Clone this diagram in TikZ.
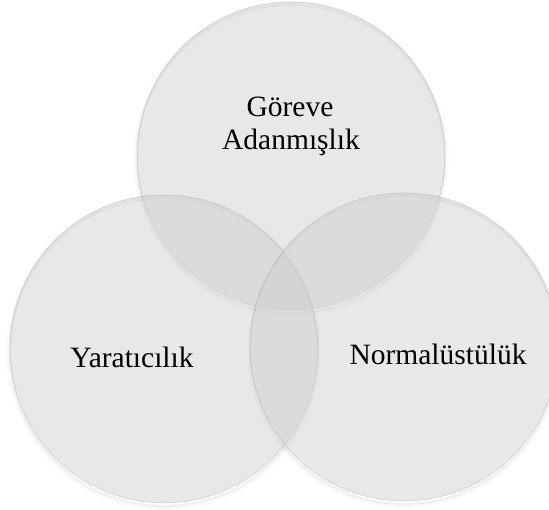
\documentclass[tikz,border=0pt]{standalone}
\usepackage{fontspec}
\setmainfont{Liberation Serif}
\begin{document}
\begin{tikzpicture}[x=1pt,y=-1pt,
  disc/.style={circle, minimum size=308pt, inner sep=0pt, fill=black!20, fill opacity=0.44,
               draw=black!50, draw opacity=0.35, line width=0.5pt},
  lbl/.style={anchor=base, font=\fontsize{29.5}{33}\selectfont, text=black, align=center}]
\useasboundingbox (0,0) rectangle (549,510);
\fill[white] (0,0) rectangle (549,510);
% soft shadows
\foreach \cx/\cy in {291/156, 164/349, 404/347}{
  \foreach \i/\op in {1/0.06,2/0.05,3/0.035,4/0.02,5/0.01}{
    \fill[black, opacity=\op, even odd rule] (\cx,\cy+3) circle (153+\i) (\cx,\cy+3) circle (152+\i);
  }
}
\node[disc] (top) at (291,156) {};
\node[disc] (left) at (164,349) {};
\node[disc] (right) at (404,347) {};
\node[lbl] (t1) at (290,117) {Göreve};
\node[lbl] (t2) at (291,150) {Adanmışlık};
\node[lbl] (yl) at (132,368) {Yaratıcılık};
\node[lbl] (nl) at (438,365) {Normalüstülük};
\end{tikzpicture}
\end{document}
